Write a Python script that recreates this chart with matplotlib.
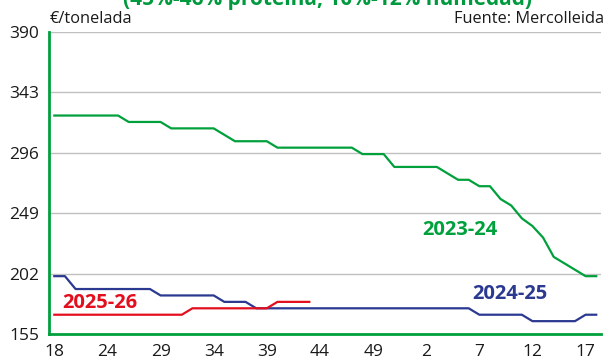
"""
Precio de la harina de soja en Mercolleida, tres campañas superpuestas
por semana. Salida: out.png
"""

import matplotlib.pyplot as plt
import numpy as np

GREEN = "#00a03c"
NAVY = "#2b3990"
RED = "#e30e1e"
GRID = "#c0c0c0"
TITLE_GREEN = "#009a3e"

plt.rcParams["font.family"] = ["Open Sans", "DejaVu Sans"]

# semanas de campaña (mayo a abril), etiqueta cada 5
week_labels = ["18", "24", "29", "34", "39", "44", "49", "2", "7", "12", "17"]
n_weeks = 52

y_ticks = [155, 202, 249, 296, 343, 390]

# €/tonelada
campaign_2023_24 = [
    325, 325, 325, 325, 325, 325, 325, 320, 320, 320,
    320, 315, 315, 315, 315, 315, 310, 305, 305, 305,
    305, 300, 300, 300, 300, 300, 300, 300, 300, 295,
    295, 295, 285, 285, 285, 285, 285, 280, 275, 275,
    270, 270, 260, 255, 245, 239, 230, 215, 210, 205,
    200, 200,
]
campaign_2024_25 = [
    200, 200, 190, 190, 190, 190, 190, 190, 190, 190,
    185, 185, 185, 185, 185, 185, 180, 180, 180, 175,
    175, 175, 175, 175, 175, 175, 175, 175, 175, 175,
    175, 175, 175, 175, 175, 175, 175, 175, 175, 175,
    170, 170, 170, 170, 170, 165, 165, 165, 165, 165,
    170, 170,
]
campaign_2025_26 = [
    170, 170, 170, 170, 170, 170, 170, 170, 170, 170,
    170, 170, 170, 175, 175, 175, 175, 175, 175, 175,
    175, 180, 180, 180, 180,
]

fig = plt.figure(figsize=(6.14, 3.56), dpi=100, facecolor="white")
ax = fig.add_axes([49 / 614, 22 / 356, 552 / 614, 302 / 356])

for values, color in [(campaign_2023_24, GREEN),
                      (campaign_2024_25, NAVY),
                      (campaign_2025_26, RED)]:
    ax.plot(np.arange(len(values)), values, color=color, lw=1.6,
            solid_joinstyle="round", zorder=3)

ax.set_xlim(-0.5, n_weeks - 0.55)
ax.set_ylim(y_ticks[0], y_ticks[-1])
ax.set_yticks(y_ticks)
ax.set_xticks(np.arange(0, n_weeks, 5)[:len(week_labels)])
ax.set_xticklabels(week_labels)
ax.tick_params(length=0, labelsize=12.5, colors="#1a1a1a")
ax.tick_params(axis="y", pad=7)
ax.tick_params(axis="x", pad=7.5)

for v in y_ticks[1:]:
    ax.axhline(v, color=GRID, lw=1.0, zorder=1)

for side in ["top", "right"]:
    ax.spines[side].set_visible(False)
for side in ["left", "bottom"]:
    ax.spines[side].set_color(GREEN)
    ax.spines[side].set_linewidth(2.0)
    ax.spines[side].set_zorder(4)

ax.text(38.2, 236, "2023-24", color=GREEN, fontsize=14.5, fontweight="bold",
        ha="center", va="center")
ax.text(42.9, 186, "2024-25", color=NAVY, fontsize=14.5, fontweight="bold",
        ha="center", va="center")
ax.text(4.3, 179, "2025-26", color=RED, fontsize=14.5, fontweight="bold",
        ha="center", va="center")

fig.text(0.534, 0.987, "(45%-46% proteína, 10%-12% humedad)", color=TITLE_GREEN,
         fontsize=15, fontweight="bold", ha="center", va="baseline")
fig.text(50 / 614, 0.936, "€/tonelada", fontsize=11.8, color="#1a1a1a",
         ha="left", va="baseline")
fig.text(604 / 614, 0.936, "Fuente: Mercolleida", fontsize=11.8, color="#1a1a1a",
         ha="right", va="baseline")

fig.savefig("out.png", dpi=100, facecolor="white")
